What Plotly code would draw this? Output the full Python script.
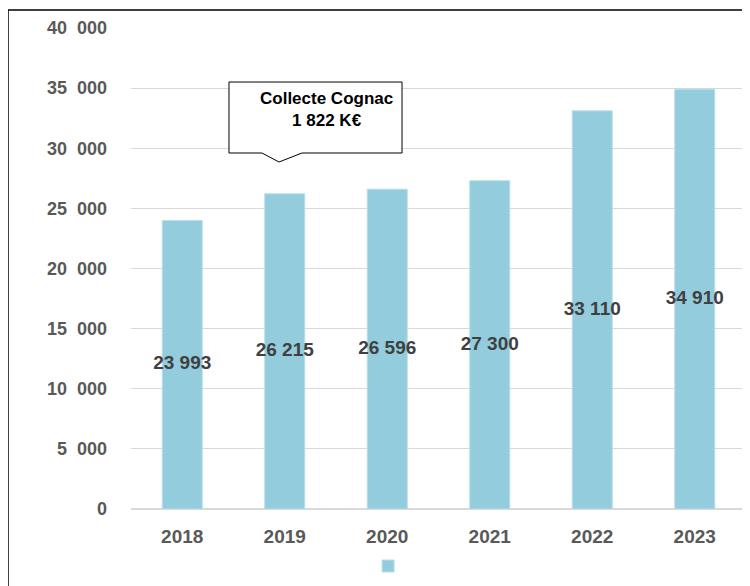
import plotly.graph_objects as go

years = ["2018", "2019", "2020", "2021", "2022", "2023"]
values = [23993, 26215, 26596, 27300, 33110, 34910]
value_labels = ["23 993", "26 215", "26 596", "27 300", "33 110", "34 910"]
tick_vals = [0, 5000, 10000, 15000, 20000, 25000, 30000, 35000, 40000]
tick_text = ["0", "5\u00a0\u00a0000", "10\u00a0\u00a0000", "15\u00a0\u00a0000", "20\u00a0\u00a0000",
             "25\u00a0\u00a0000", "30\u00a0\u00a0000", "35\u00a0\u00a0000", "40\u00a0\u00a0000"]
callout_text = "Collecte Cognac<br>1 822 K€"

FONT = "Liberation Sans Narrow, Arial Narrow, Liberation Sans, Arial"

fig = go.Figure()
fig.add_trace(go.Bar(
    x=years, y=values, name=" ",
    marker=dict(color="#93CDDD", line=dict(color="#B7DEE8", width=1)),
    showlegend=True, hoverinfo="skip",
))
fig.add_trace(go.Scatter(
    x=years, y=[v / 2 for v in values], mode="text", text=value_labels,
    textposition="middle center",
    textfont=dict(family=FONT, size=19, color="#404040", weight="bold"),
    showlegend=False, hoverinfo="skip",
))

fig.update_layout(
    width=750, height=586,
    margin=dict(l=123, r=12, t=20, b=85, autoexpand=False),
    paper_bgcolor="white", plot_bgcolor="white",
    bargap=0.61,
    font=dict(family=FONT),
    xaxis=dict(
        type="category", showgrid=False, showline=False, zeroline=False,
        automargin=False,
        tickfont=dict(family=FONT, size=19, color="#595959", weight="bold"),
        ticklabelstandoff=14,
    ),
    yaxis=dict(
        range=[0, 40000], tickvals=tick_vals, ticktext=tick_text,
        automargin=False,
        showgrid=True, gridcolor="#D9D9D9", gridwidth=1,
        zeroline=True, zerolinecolor="#D9D9D9", zerolinewidth=2,
        showline=False,
        tickfont=dict(family=FONT, size=18, color="#595959", weight="bold"),
        ticklabelstandoff=23,
    ),
    legend=dict(orientation="h", x=0.3855, y=-0.1185, xanchor="left", yanchor="middle",
                font=dict(size=12), bgcolor="rgba(0,0,0,0)"),
    showlegend=True,
)

# outer frame
fig.add_shape(type="rect", xref="paper", yref="paper",
              x0=-0.2, x1=1.2, y0=-0.3, y1=1.0374,
              line=dict(color="#000000", width=1.5), layer="below")

# callout box
fig.add_shape(type="path", xref="paper", yref="paper",
              path="M 0.1593 0.8877 L 0.4407 0.8877 L 0.4407 0.7401 L 0.2780 0.7401 "
                   "L 0.2407 0.7214 L 0.2130 0.7401 L 0.1593 0.7401 Z",
              line=dict(color="#000000", width=1), fillcolor="white")
fig.add_annotation(xref="paper", yref="paper", x=0.3171, y=0.8306,
                   xanchor="center", yanchor="middle",
                   text=callout_text, showarrow=False,
                   font=dict(family=FONT, size=17, color="#000000", weight="bold"),
                   align="center")

fig.write_html("out.html")
